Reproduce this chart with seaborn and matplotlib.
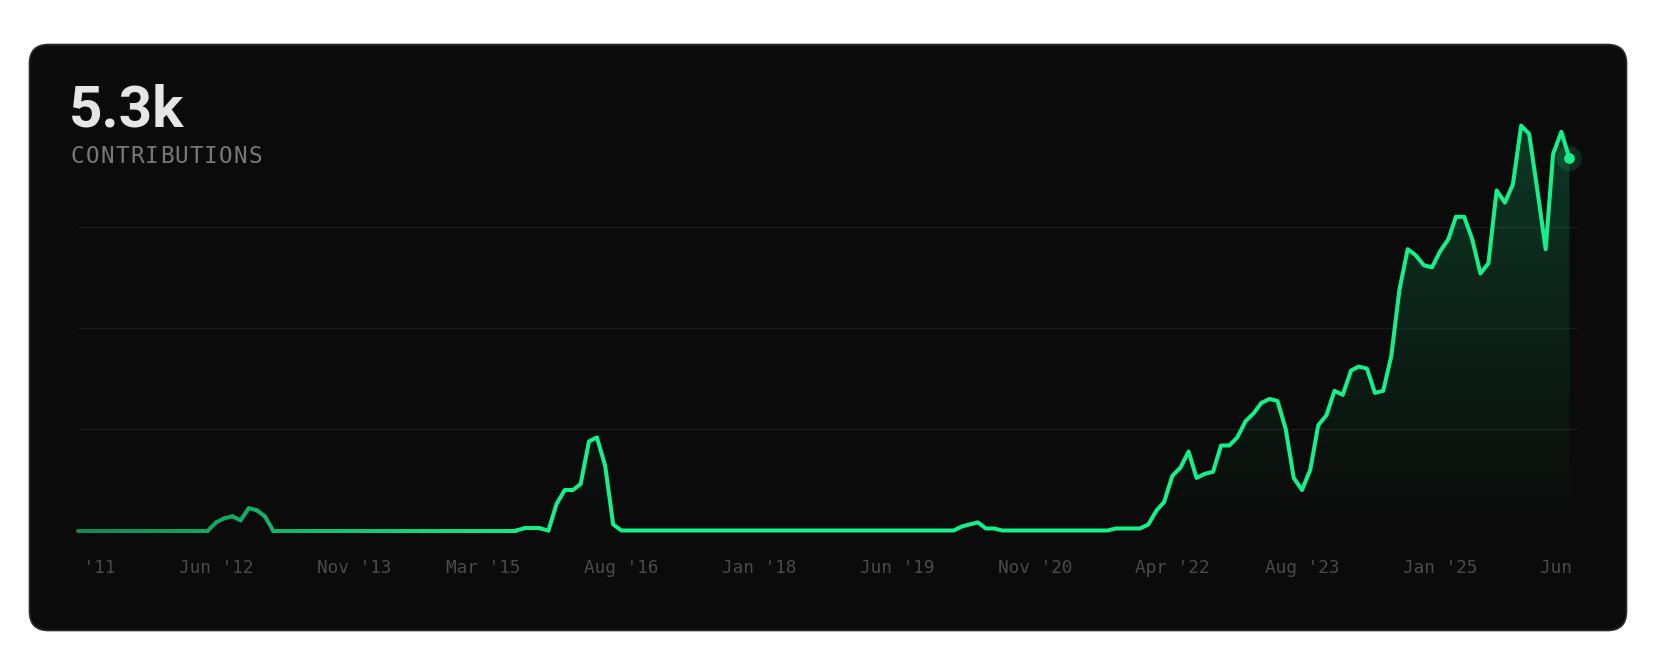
import numpy as np
import pandas as pd
import seaborn as sns
import matplotlib.pyplot as plt
import matplotlib.dates as mdates
from matplotlib.patches import FancyBboxPatch
from matplotlib.transforms import Bbox, TransformedBbox
from matplotlib.colors import to_rgb

# monthly contributions, Jan 2011 .. May 2026
start_month = "2011-01-01"
contributions = [
    0, 0, 0, 0, 0, 0, 0, 0, 0, 0, 0, 0,                 # 2011
    0, 0, 0, 0, 0, 4, 6, 7, 5, 11, 10, 7,               # 2012
    0, 0, 0, 0, 0, 0, 0, 0, 0, 0, 0, 0,                 # 2013
    0, 0, 0, 0, 0, 0, 0, 0, 0, 0, 0, 0,                 # 2014
    0, 0, 0, 0, 0, 0, 0, 1, 1, 1, 0, 13,                # 2015
    20, 20, 23, 44, 46, 32, 3, 0, 0, 0, 0, 0,           # 2016
    0, 0, 0, 0, 0, 0, 0, 0, 0, 0, 0, 0,                 # 2017
    0, 0, 0, 0, 0, 0, 0, 0, 0, 0, 0, 0,                 # 2018
    0, 0, 0, 0, 0, 0, 0, 0, 0, 0, 0, 0,                 # 2019
    0, 2, 3, 4, 1, 1, 0, 0, 0, 0, 0, 0,                 # 2020
    0, 0, 0, 0, 0, 0, 0, 0, 1, 1, 1, 1,                 # 2021
    3, 10, 14, 27, 31, 39, 26, 28, 29, 42, 42, 46,      # 2022
    54, 58, 63, 65, 64, 50, 26, 20, 30, 52, 57, 69,     # 2023
    67, 79, 81, 80, 68, 69, 86, 119, 139, 136, 131, 130,  # 2024
    138, 144, 155, 155, 144, 127, 132, 168, 162, 171, 200, 196,  # 2025
    168, 139, 186, 197, 184,                            # 2026
]
tick_months = ["2011-01-01", "2012-06-01", "2013-11-01", "2015-03-01",
               "2016-08-01", "2018-01-01", "2019-06-01", "2020-11-01",
               "2022-04-01", "2023-08-01", "2025-01-01", "2026-06-01"]
tick_labels = ["Jan '11", "Jun '12", "Nov '13", "Mar '15", "Aug '16", "Jan '18",
               "Jun '19", "Nov '20", "Apr '22", "Aug '23", "Jan '25", "Jun '26"]
grid_levels = [50, 100, 150]
total_label = "5.3k"
caption = "CONTRIBUTIONS"

W, H = 1664, 652
BG = "#0b0b0b"
GREEN = "#16f08a"

sns.set_style("white")
plt.rcParams["font.family"] = ["DejaVu Sans Mono"]

months = pd.date_range(start_month, periods=len(contributions), freq="MS")

fig = plt.figure(figsize=(W / 100, H / 100), dpi=100, facecolor="white")

# card + header, drawn in pixel coords
bg = fig.add_axes([0, 0, 1, 1])
bg.set_xlim(0, W)
bg.set_ylim(H, 0)
bg.axis("off")
bg.add_patch(FancyBboxPatch((29.5, 44.5), 1597, 586,
                            boxstyle="round,pad=0,rounding_size=19",
                            fc=BG, ec="#2c2c2c", lw=1.2))
bg.text(69, 126.7, total_label, family=["Roboto", "DejaVu Sans"], weight="bold",
        size=42, color="#e6e6e6", va="baseline")
for i, ch in enumerate(caption):
    bg.text(71 + i * 14.8, 163.3, ch, size=16.3, color="#787878", va="baseline")

# chart area
x0, x1, base, height = 78.5, 1577.6, 530.5, 404.8
ax = fig.add_axes([x0 / W, (H - base) / H, (x1 - x0) / W, height / H])

for lvl in grid_levels:
    ax.axhline(lvl, color="#1b1b1b", lw=1, zorder=0)

# area fill with a vertical fade
poly = ax.fill_between(months, contributions, 0, color="none", lw=0)
grad = np.zeros((256, 1, 4))
grad[..., :3] = to_rgb(GREEN)
grad[:, 0, 3] = np.linspace(0.0, 0.2, 256)
img = ax.imshow(grad, origin="lower", aspect="auto", zorder=1,
                extent=[mdates.date2num(months[0]), mdates.date2num(months[-1]), 0, 200])
img.set_clip_path(poly.get_paths()[0], ax.transData)

# line, dimmer at the start
fade_end = 58
rows = []
for i in range(len(contributions) - 1):
    seg = min(i, fade_end)
    rows.append((months[i], contributions[i], seg))
    rows.append((months[i + 1], contributions[i + 1], seg))
segs = pd.DataFrame(rows, columns=["month", "count", "seg"])


def shade(s):
    t = 0.55 + 0.45 * min(s / fade_end, 1)
    return tuple(np.array(to_rgb(BG)) * (1 - t) + np.array(to_rgb(GREEN)) * t)


palette = {s: shade(s) for s in segs["seg"].unique()}
sns.lineplot(data=segs, x="month", y="count", hue="seg", palette=palette,
             estimator=None, sort=False, legend=False, linewidth=2.9, ax=ax,
             solid_capstyle="round", solid_joinstyle="round", clip_on=False, zorder=3)

# end point
last = pd.DataFrame({"month": [months[-1]], "count": [contributions[-1]]})
sns.scatterplot(data=last, x="month", y="count", s=330, color=GREEN, alpha=0.14,
                linewidth=0, ax=ax, clip_on=False, zorder=4)
sns.scatterplot(data=last, x="month", y="count", s=60, color=GREEN,
                linewidth=0, ax=ax, clip_on=False, zorder=5)

ax.set_xlim(months[0], pd.Timestamp(tick_months[-1]))
ax.set_ylim(0, 200)
ax.axis("off")

# x labels, clipped to the plot width
clip = TransformedBbox(Bbox.from_extents(x0 / W, 0, x1 / W, 1), fig.transFigure)
for m, lab in zip(tick_months, tick_labels):
    t = ax.text(mdates.date2num(pd.Timestamp(m)), -(573.3 - base) / height, lab,
                transform=ax.get_xaxis_transform(), ha="center", va="baseline",
                size=12.8, color="#4a4a4a")
    t.set_clip_box(clip)
    t.set_clip_on(True)

fig.savefig("out.png", dpi=100, facecolor="white")
